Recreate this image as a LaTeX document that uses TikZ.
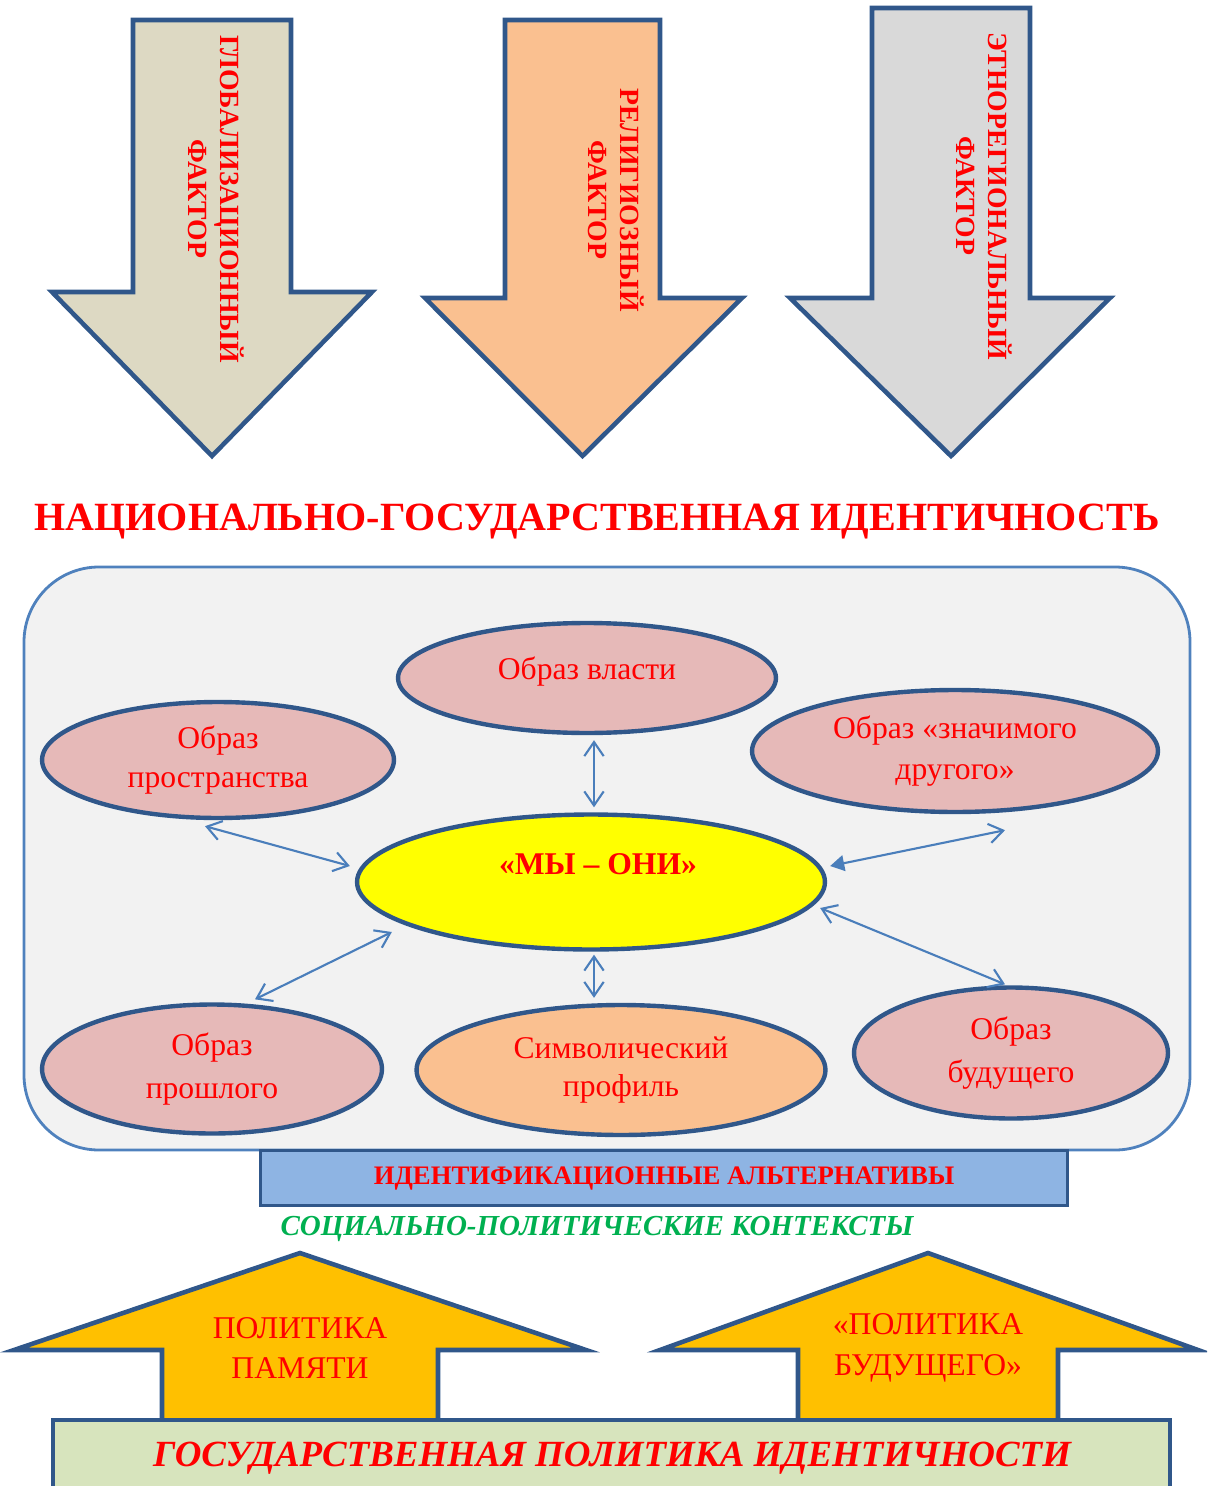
\documentclass[tikz,border=0pt]{standalone}
\usepackage{fontspec}
\setmainfont{Liberation Serif}
\usetikzlibrary{shapes.geometric, calc, arrows.meta}
\definecolor{edge}{HTML}{30578A}
\definecolor{factorA}{HTML}{DDD9C3}
\definecolor{factorB}{HTML}{FAC090}
\definecolor{factorC}{HTML}{D9D9D9}
\definecolor{framefill}{HTML}{F2F2F2}
\definecolor{frameline}{HTML}{4F81BD}
\definecolor{pinkfill}{HTML}{E6B9B8}
\definecolor{linkblue}{HTML}{4A7EBB}
\definecolor{altfill}{HTML}{8EB4E3}
\definecolor{ctxgreen}{HTML}{00B050}
\definecolor{policyfill}{HTML}{FFC000}
\definecolor{statefill}{HTML}{D7E4BD}
\definecolor{txtred}{HTML}{FF0000}
\definecolor{myfill}{HTML}{FFFF00}
\tikzset{
  factor/.style={draw=edge, line width=2.6pt},
  ftext/.style={text=txtred, font=\fontsize{15.8}{18}\selectfont\bfseries, rotate=-90, align=center},
  obraz/.style={ellipse, draw=edge, line width=2.5pt, fill=pinkfill, inner sep=0pt, align=center, text=txtred, font=\fontsize{18}{22}\selectfont},
  barb/.tip={Straight Barb[length=8pt,width=11pt]},
  link/.style={linkblue, line width=1.2pt, barb-barb},
  box/.style={draw=edge, line width=2pt},
  policytext/.style={text=txtred, align=center, font=\fontsize{18}{23}\selectfont}
}
\begin{document}
\begin{tikzpicture}[x=0.02cm, y=-0.02cm]
  \useasboundingbox (0,0) rectangle (1207,1486);
  \clip (0,0) rectangle (1207,1486);

  \foreach \sl/\sr/\hl/\hr/\ya/\yb/\col in {133/291/52/372/20/292/factorA, 505/660/425/742/20/298/factorB, 872/1030/790/1110/8/298/factorC}
    \draw[factor, fill=\col] (\sl,\ya) -- (\sr,\ya) -- (\sr,\yb) -- (\hr,\yb) -- ({(\sl+\sr)/2},456) -- (\hl,\yb) -- (\sl,\yb) -- cycle;
  \node (glob) [ftext] at (216,199) {ГЛОБАЛИЗАЦИОННЫЙ\\ФАКТОР};
  \node (relig) [ftext] at (616,200) {РЕЛИГИОЗНЫЙ\\ФАКТОР};
  \node (ethno) [ftext] at (984,196) {ЭТНОРЕГИОНАЛЬНЫЙ\\ФАКТОР};

  \node (title) [text=txtred, font=\fontsize{22.8}{26}\selectfont\bfseries] at (597,522) {НАЦИОНАЛЬНО-ГОСУДАРСТВЕННАЯ ИДЕНТИЧНОСТЬ};

  \draw[frameline, line width=1.6pt, fill=framefill, rounded corners=1.5cm] (24,567) rectangle (1190,1150);

  \node (vlast) [obraz, minimum width=7.56cm, minimum height=2.2cm] at (587,678) {\raisebox{11pt}{Образ власти}};
  \node (prostr) [obraz, minimum width=7.04cm, minimum height=2.32cm] at (218,760) {Образ\\пространства};
  \node (znach) [obraz, minimum width=8.12cm, minimum height=2.44cm, font=\fontsize{18}{23}\selectfont] at (955,751) {Образ «значимого\\другого»};
  \node (my) [obraz, fill=myfill, minimum width=9.36cm, minimum height=2.7cm] at (591,882) {};
  \node (mytext) [text=txtred, font=\fontsize{18}{22}\selectfont\bfseries] at (598,864) {«МЫ – ОНИ»};
  \node (proshl) [obraz, minimum width=6.8cm, minimum height=2.58cm, font=\fontsize{18}{24}\selectfont] at (212,1069) {Образ\\прошлого};
  \node (simv) [obraz, fill=factorB, minimum width=8.18cm, minimum height=2.6cm] at (621,1070) {Символический\\профиль};
  \node (budush) [obraz, minimum width=6.28cm, minimum height=2.62cm, font=\fontsize{18}{24}\selectfont] at (1011,1053) {Образ\\будущего};

  \draw[link] ($(vlast.south)+(7,5)$) -- ($(my.north)+(3,-5)$);
  \draw[link] ($(prostr.south)+(-13,6)$) -- ($(my.west)+(-5,-16)$);
  \draw[link, barb-{Triangle[length=8pt,width=9pt]}] ($(znach.south)+(50,16)$) -- ($(my.east)+(3,-16)$);
  \draw[link] ($(proshl.north)+(43,-3)$) -- ($(my.west)+(37,50)$);
  \draw[link] ($(simv.north)+(-27,-5)$) -- ($(my.south)+(3,3)$);
  \draw[link] ($(budush.north)+(-6,-1)$) -- ($(my.east)+(-7,26)$);

  \node (alt) [box, fill=altfill, minimum width=16.14cm, minimum height=1.1cm, text=txtred, font=\fontsize{15.2}{18}\selectfont\bfseries] at (664,1178) {ИДЕНТИФИКАЦИОННЫЕ АЛЬТЕРНАТИВЫ};
  \node (context) [text=ctxgreen, font=\fontsize{16.5}{18}\selectfont\bfseries\itshape] at (597,1229) {СОЦИАЛЬНО-ПОЛИТИЧЕСКИЕ КОНТЕКСТЫ};

  \foreach \sl/\sr/\hl/\hr in {162/438/14/586, 798/1058/660/1198}
    \draw[factor, fill=policyfill] (\sl,1440) -- (\sl,1350) -- (\hl,1350) -- ({(\sl+\sr)/2},1253) -- (\hr,1350) -- (\sr,1350) -- (\sr,1440) -- cycle;
  \node (memory) [policytext] at (300,1348) {ПОЛИТИКА\\ПАМЯТИ};
  \node (future) [policytext] at (928,1348) {«ПОЛИТИКА\\БУДУЩЕГО»};

  \draw[box, fill=statefill] (53,1420) rectangle (1170,1520);
  \node (state) [text=txtred, font=\fontsize{21}{26}\selectfont\bfseries\itshape] at (612,1458) {ГОСУДАРСТВЕННАЯ ПОЛИТИКА ИДЕНТИЧНОСТИ};
\end{tikzpicture}
\end{document}
